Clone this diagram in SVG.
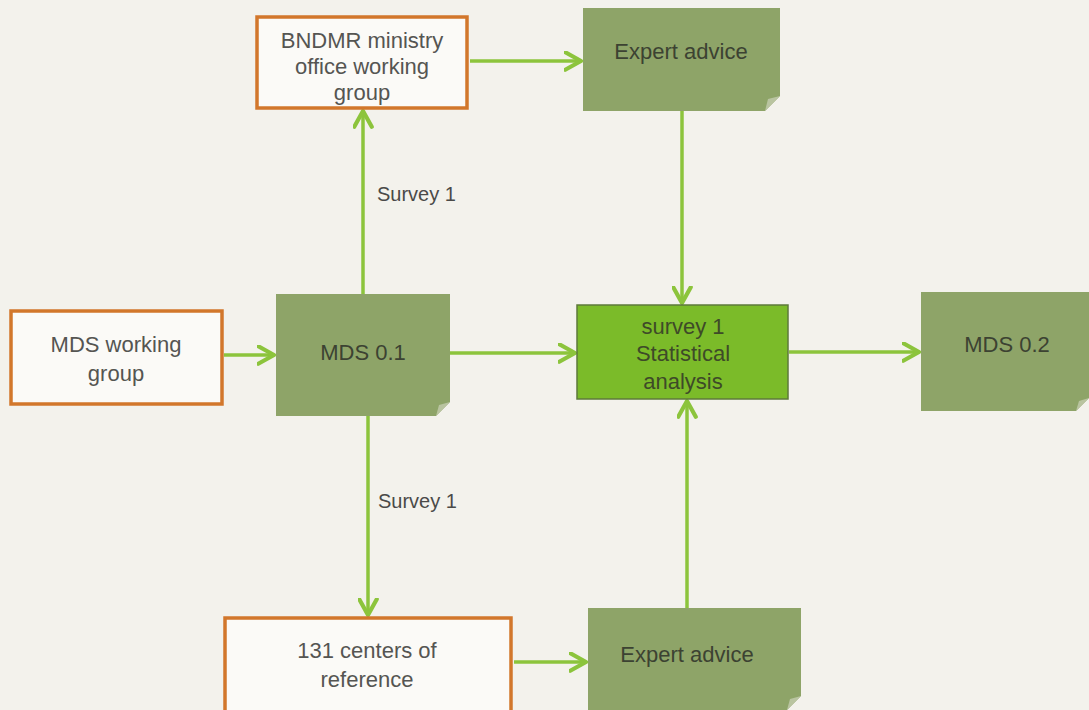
<svg xmlns="http://www.w3.org/2000/svg" width="1089" height="710" viewBox="0 0 1089 710">
  <defs>
    <marker id="chev" viewBox="0 0 12 12" refX="10" refY="6" markerWidth="6" markerHeight="6" markerUnits="strokeWidth" orient="auto">
      <path d="M1,1 L10,6 L1,11" fill="none" stroke="#8cc43c" stroke-width="2.4" stroke-linecap="round" stroke-linejoin="round"/>
    </marker>
  </defs>
  <style>
    .bg { fill: #f3f2ec; }
    .outline { fill: #fbfaf7; stroke: #d2772b; stroke-width: 3.5; }
    .note { fill: #8ea468; }
    .fold { fill: #b9c4a0; }
    .stat { fill: #7bbb29; stroke: #5e7a3a; stroke-width: 1.5; }
    .edge { fill: none; stroke: #8cc43c; stroke-width: 3.5; marker-end: url(#chev); }
    text { font-family: "Liberation Sans", "DejaVu Sans", sans-serif; text-anchor: middle; }
    .t { font-size: 22px; fill: #555552; }
    .tn { font-size: 22px; fill: #3c4232; }
    .ts { font-size: 22px; fill: #3e4a28; }
    .lbl { font-size: 20px; fill: #4a4a48; text-anchor: start; }
  </style>

  <rect class="bg" x="0" y="0" width="1089" height="710"/>

  <!-- connectors -->
  <g id="connectors">
    <line class="edge" x1="470" y1="61" x2="581" y2="61"/>
    <line class="edge" x1="363" y1="294" x2="363" y2="111"/>
    <line class="edge" x1="682" y1="111" x2="682" y2="303"/>
    <line class="edge" x1="224" y1="355" x2="274" y2="355"/>
    <line class="edge" x1="450" y1="353" x2="575" y2="353"/>
    <line class="edge" x1="789" y1="352" x2="919" y2="352"/>
    <line class="edge" x1="368" y1="416" x2="368" y2="615"/>
    <line class="edge" x1="687" y1="608" x2="687" y2="401"/>
    <line class="edge" x1="514" y1="662" x2="586" y2="662"/>
    <text class="lbl" x="377" y="201">Survey 1</text>
    <text class="lbl" x="378" y="508">Survey 1</text>
  </g>

  <!-- nodes -->
  <g id="bndmr">
    <rect class="outline" x="257" y="17" width="210" height="91"/>
    <text class="t" x="362" y="48">BNDMR ministry</text>
    <text class="t" x="362" y="74">office working</text>
    <text class="t" x="362" y="100">group</text>
  </g>

  <g id="expert-top">
    <path class="note" d="M583,8 H780 V96 L765,111 H583 Z"/>
    <path class="fold" d="M780,96 L765,111 L768,99 Z"/>
    <text class="tn" x="681" y="59">Expert advice</text>
  </g>

  <g id="mds-wg">
    <rect class="outline" x="11" y="311" width="211" height="93"/>
    <text class="t" x="116" y="352">MDS working</text>
    <text class="t" x="116" y="381">group</text>
  </g>

  <g id="mds01">
    <path class="note" d="M276,294 H450 V402 L436,416 H276 Z"/>
    <path class="fold" d="M450,402 L436,416 L439,405 Z"/>
    <text class="tn" x="363" y="360">MDS 0.1</text>
  </g>

  <g id="stat">
    <rect class="stat" x="577" y="305" width="211" height="94"/>
    <text class="ts" x="683" y="334">survey 1</text>
    <text class="ts" x="683" y="361">Statistical</text>
    <text class="ts" x="683" y="389">analysis</text>
  </g>

  <g id="mds02">
    <path class="note" d="M921,292 H1089 V398 L1076,411 H921 Z"/>
    <path class="fold" d="M1089,398 L1076,411 L1079,401 Z"/>
    <text class="tn" x="1007" y="352">MDS 0.2</text>
  </g>

  <g id="centers">
    <rect class="outline" x="225" y="618" width="286" height="94"/>
    <text class="t" x="367" y="658">131 centers of</text>
    <text class="t" x="367" y="687">reference</text>
  </g>

  <g id="expert-bottom">
    <path class="note" d="M588,608 H801 V696 L787,710 H588 Z"/>
    <path class="fold" d="M801,696 L787,710 L790,699 Z"/>
    <text class="tn" x="687" y="662">Expert advice</text>
  </g>
</svg>
